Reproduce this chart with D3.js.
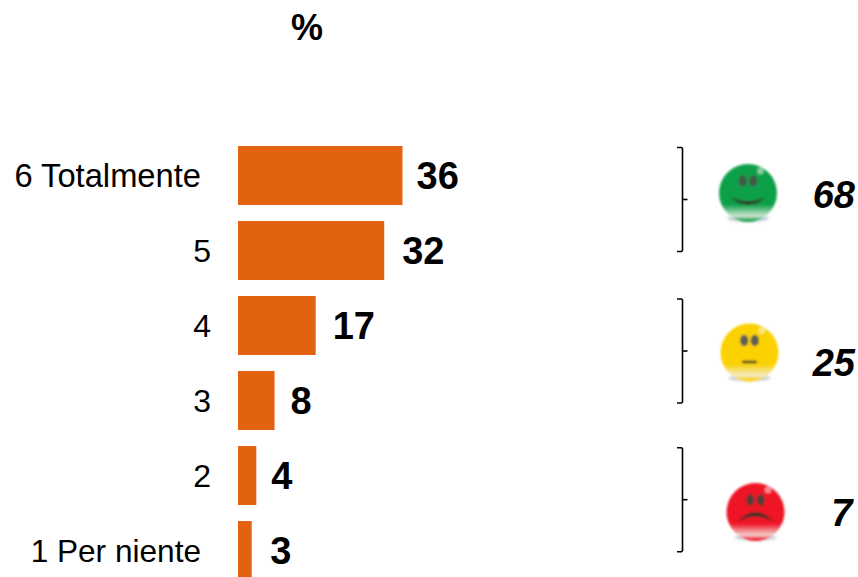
<!DOCTYPE html>
<html>
<head>
<meta charset="utf-8">
<script src="https://cdn.jsdelivr.net/npm/d3@7"></script>
<style>
html,body{margin:0;padding:0;background:#fff;overflow:hidden}
svg{display:block}
text{font-family:"Liberation Sans",Arial,sans-serif;fill:#000}
</style>
</head>
<body>
<svg id="chart" width="858" height="577"></svg>
<script>
const categories = ["6 Totalmente","5","4","3","2","1 Per niente"];
const values = [36,32,17,8,4,3];
const groupTotals = [68,25,7];
const groupStarts = ["6 Totalmente","4","2"];
const faceMoods = ["happy","neutral","sad"];
const faceColors = ["#0fa04a","#fbd100","#ee1228"];
const faceGloss = ["#cfe6d2","#f3ebcb","#f4d2cd"];
const eyeColors = ["#3f5a48","#5f5f50","#5d3a34"];

// Layout of the annotation column and the small nudges on the value labels
const labelGaps = [14,18,17,16,15,18.5];
const longLabelFont = {"6 Totalmente":32.7,"1 Per niente":31.6};
const bracketOffsets = [1.5,3,1.7];
const bracketHeight = 104;
const faceX = [748,749.5,755.5];
const faceY = [193,352.5,512];
const totalRight = [855,855,852.5];
const totalBaselines = [208,375.5,526];

const svg = d3.select("#chart");
const x = d3.scaleLinear().domain([0,36]).range([238,402.5]);
const y = d3.scaleBand().domain(categories).range([146,580]).paddingInner(16/75).paddingOuter(0);

svg.append("text").attr("x",307).attr("y",40).attr("text-anchor","middle")
  .attr("font-size",36).attr("font-weight","bold").text("%");

svg.selectAll("rect.bar").data(values).join("rect").attr("class","bar")
  .attr("x",x(0)).attr("y",(d,i)=>y(categories[i]))
  .attr("width",d=>x(d)-x(0)).attr("height",y.bandwidth()).attr("fill","#e3620f");

svg.selectAll("text.cat").data(categories).join("text").attr("class","cat")
  .attr("x",d=>d.length>1?201:211).attr("y",d=>y(d)+y.bandwidth()/2+11)
  .attr("text-anchor","end").attr("font-size",d=>longLabelFont[d]||32).text(d=>d);

svg.selectAll("text.val").data(values).join("text").attr("class","val")
  .attr("x",(d,i)=>x(d)+labelGaps[i]).attr("y",(d,i)=>y(categories[i])+y.bandwidth()/2+13.5)
  .attr("font-size",38).attr("font-weight","bold").text(d=>d);

// Gradients and blur for the glossy smiley faces
const defs = svg.append("defs");
faceColors.forEach((c,i)=>{
  const g = defs.append("linearGradient").attr("id","face"+i).attr("x1",0).attr("y1",0).attr("x2",0).attr("y2",1);
  g.append("stop").attr("offset","0.7").attr("stop-color",c);
  g.append("stop").attr("offset","0.9").attr("stop-color",faceGloss[i]);
  g.append("stop").attr("offset","0.97").attr("stop-color",c);
});
defs.append("filter").attr("id","soft").append("feGaussianBlur").attr("stdDeviation",0.9);
defs.append("filter").attr("id","softer").append("feGaussianBlur").attr("stdDeviation",1);

// Brackets, faces and totals, one set per group of answers
const groups = svg.selectAll("g.group").data(groupTotals).join("g").attr("class","group");
const bracketX = 682.5;
groups.each(function(total,i){
  const g = d3.select(this);
  const top = y(groupStarts[i])+bracketOffsets[i], bottom = top+bracketHeight;
  const mid = (top+bottom)/2;
  g.append("path").attr("fill","none").attr("stroke","#000").attr("stroke-width",1.6)
    .attr("d",d3.line()([[bracketX-5.5,top],[bracketX-1,top],[bracketX,top+1],[bracketX,bottom-1],[bracketX-1,bottom],[bracketX-5.5,bottom]]));
  g.append("path").attr("stroke","#000").attr("stroke-width",1.6)
    .attr("d",d3.line()([[bracketX,mid],[bracketX+5,mid]]));

  const r = 29;
  const face = g.append("g").attr("transform",`translate(${faceX[i]},${faceY[i]})`).attr("filter","url(#soft)");
  face.append("ellipse").attr("cx",0).attr("cy",r-3.5).attr("rx",21).attr("ry",3)
    .attr("fill","#8fa3bb").attr("opacity",0.6).attr("filter","url(#softer)");
  face.append("circle").attr("r",r).attr("fill",`url(#face${i})`);
  face.append("circle").attr("cx",12.5).attr("cy",-22).attr("r",3.2).attr("fill","#fff").attr("opacity",0.5);
  [-5.3,5.3].forEach(dx=>face.append("ellipse").attr("cx",dx).attr("cy",-12).attr("rx",4.2).attr("ry",5.8).attr("fill",eyeColors[i]));
  const mood = faceMoods[i];
  const mouth = mood==="happy" ? "M-17,5 Q0,18 17,5 Q0,12 -17,5Z"
              : mood==="neutral" ? "M-7,8.5 L7,8.5 L7,10.5 L-7,10.5Z"
              : "M-17,9 Q0,-8 17,9 Q0,-1 -17,9Z";
  face.append("path").attr("d",mouth).attr("fill","#2f3028").attr("stroke","#2f3028").attr("stroke-width",0.5);

  g.append("text").attr("x",totalRight[i]).attr("y",totalBaselines[i]).attr("text-anchor","end")
    .attr("font-size",38).attr("font-weight","bold").attr("font-style","italic").text(total);
});
</script>
</body>
</html>
